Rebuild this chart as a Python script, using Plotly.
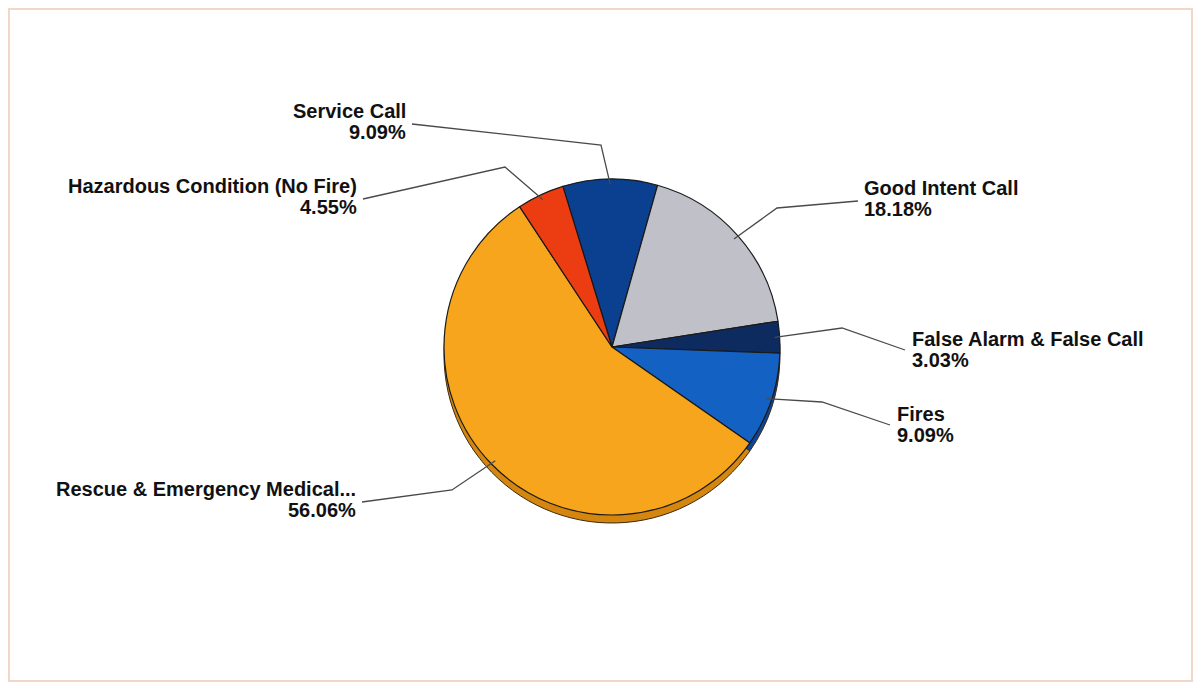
import math
import plotly.graph_objects as go

# ---- data ----
categories = ["Service Call", "Good Intent Call", "False Alarm & False Call",
              "Fires", "Rescue & Emergency Medical...", "Hazardous Condition (No Fire)"]
counts = [6, 12, 2, 6, 37, 3]
colors = ["#0b3f8f", "#bfc0c8", "#0d2b5e", "#1461c4", "#f6a51c", "#ec3d12"]
rim_colors = ["#082e6a", "#8e8f96", "#081d40", "#0d4597", "#d5860f", "#b52a08"]

# ---- layout / style ----
W, H = 1201, 689
CX, CY, R = 612, 347, 168
ROTATION = -17
RIM = 8

# label placement (pixel coords): text edge x, line1 centre y, anchor side,
# elbow point of the leader line, leader line start near the text
label_layout = {
    "Service Call": dict(x=407, y=111, side="right", elbow=(601, 145), start=(412, 124)),
    "Good Intent Call": dict(x=863, y=188, side="left", elbow=(777, 208), start=(858, 201)),
    "False Alarm & False Call": dict(x=911, y=339, side="left", elbow=(842, 328), start=(905, 350)),
    "Fires": dict(x=896, y=414, side="left", elbow=(822, 402), start=(890, 425)),
    "Rescue & Emergency Medical...": dict(x=357, y=489, side="right", elbow=(452, 490), start=(362, 502)),
    "Hazardous Condition (No Fire)": dict(x=358, y=186, side="right", elbow=(505, 167), start=(363, 199)),
}
LINE_GAP = 21
FONT = "Liberation Sans, Arial, sans-serif"


def px(x):
    return x / W


def py(y):
    return 1 - y / H


def domain(cy):
    return dict(x=[px(CX - R), px(CX + R)], y=[py(cy + R), py(cy - R)])


total = sum(counts)
pcts = [100 * c / total for c in counts]

fig = go.Figure()
# rim (3D side wall), drawn behind
fig.add_trace(go.Pie(
    labels=categories, values=counts, sort=False, direction="clockwise",
    rotation=ROTATION, domain=domain(CY + RIM), textinfo="none", hoverinfo="skip",
    marker=dict(colors=rim_colors, line=dict(color="#3a2a10", width=1)),
    showlegend=False,
))
# top face
fig.add_trace(go.Pie(
    labels=categories, values=counts, sort=False, direction="clockwise",
    rotation=ROTATION, domain=domain(CY), textinfo="none",
    marker=dict(colors=colors, line=dict(color="#1a1a1a", width=1.2)),
    showlegend=False,
))

shapes = [dict(type="rect", xref="paper", yref="paper",
               x0=px(9), y0=py(681), x1=px(1192), y1=py(9),
               line=dict(color="#f2d6c8", width=2), fillcolor="rgba(0,0,0,0)")]
annotations = []
cum = 0.0
for cat, c, p in zip(categories, counts, pcts):
    mid = ROTATION + 360 * (cum + c / 2) / total
    cum += c
    th = math.radians(mid)
    ax = CX + 0.97 * R * math.sin(th)
    ay = CY - 0.97 * R * math.cos(th)
    L = label_layout[cat]
    sx, sy = L["start"]
    ex, ey = L["elbow"]
    path = f"M {px(sx)} {py(sy)} L {px(ex)} {py(ey)} L {px(ax)} {py(ay)}"
    shapes.append(dict(type="path", xref="paper", yref="paper", path=path,
                       line=dict(color="#4a4a4a", width=1.3)))
    anchor = "right" if L["side"] == "right" else "left"
    for i, txt in enumerate([cat, f"{p:.2f}%"]):
        annotations.append(dict(
            x=px(L["x"]), y=py(L["y"] + i * LINE_GAP), xref="paper", yref="paper",
            text=f"<b>{txt}</b>", showarrow=False, xanchor=anchor, yanchor="middle",
            borderpad=0, font=dict(family=FONT, size=20, color="#111111"),
        ))

fig.update_layout(
    width=W, height=H, margin=dict(l=0, r=0, t=0, b=0),
    paper_bgcolor="white", plot_bgcolor="white",
    shapes=shapes, annotations=annotations,
)

fig.write_html("out.html")
